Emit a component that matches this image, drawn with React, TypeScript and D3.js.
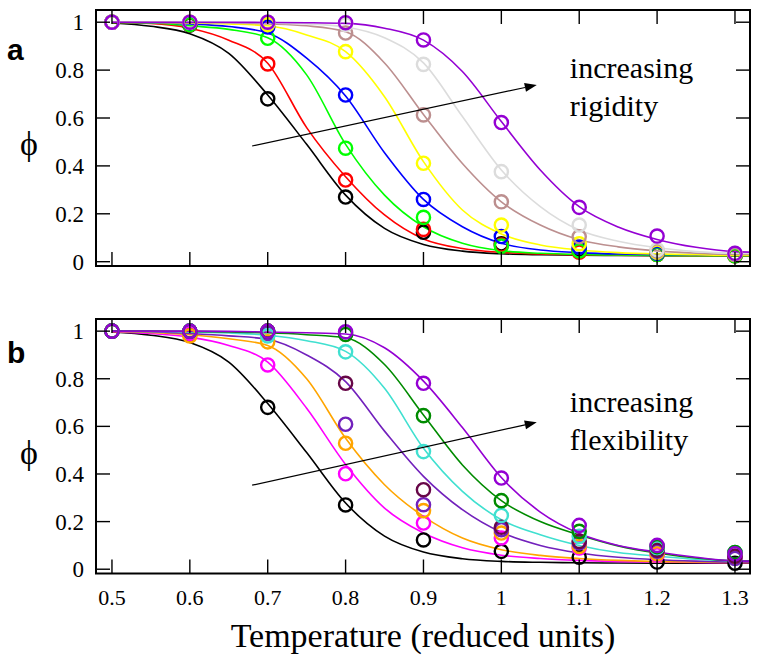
import React from 'react';
import * as d3 from 'd3';

// temperatures where the simulation points sit
const TEMPS = [0.5, 0.6, 0.7, 0.8, 0.9, 1.0, 1.1, 1.2, 1.3];
const FIT_T = [0.5, 0.55, 0.6, 0.65, 0.7, 0.75, 0.8, 0.85, 0.9, 0.95, 1.0, 1.05, 1.1, 1.15, 1.2, 1.25, 1.3, 1.32];

const X_TICKS = [0.5, 0.6, 0.7, 0.8, 0.9, 1.0, 1.1, 1.2, 1.3];
const X_TICK_LABELS = ['0.5', '0.6', '0.7', '0.8', '0.9', '1', '1.1', '1.2', '1.3'];
const Y_TICKS = [0, 0.2, 0.4, 0.6, 0.8, 1];
const Y_TICK_LABELS = ['0', '0.2', '0.4', '0.6', '0.8', '1'];

// panel a : points
const aBlackPts = [1, 0.988, 0.68, 0.27, 0.123, 0.075, 0.05, 0.03, 0.025];
const aRedPts = [1, 0.99, 0.826, 0.341, 0.135, 0.07, 0.04, 0.03, 0.025];
const aGreenPts = [1, 0.99, 0.933, 0.474, 0.185, 0.065, 0.045, 0.03, 0.025];
const aBluePts = [1, 0.998, 0.98, 0.696, 0.26, 0.105, 0.06, 0.035, 0.03];
const aYellowPts = [1, 1, 0.99, 0.877, 0.411, 0.153, 0.075, 0.04, 0.03];
const aBrownPts = [1, 1, 1, 0.955, 0.613, 0.25, 0.104, 0.045, 0.03];
const aGreyPts = [1, 1, 1, 0.99, 0.824, 0.376, 0.153, 0.05, 0.035];
const aVioletPts = [1, 1, 1, 0.998, 0.926, 0.581, 0.227, 0.107, 0.035];

// panel a : fitted curves
const aBlackFit = [0.997, 0.983, 0.952, 0.87, 0.696, 0.49, 0.278, 0.139, 0.072, 0.044, 0.033, 0.029, 0.027, 0.026, 0.025, 0.025, 0.025, 0.025];
const aRedFit = [0.999, 0.995, 0.975, 0.925, 0.829, 0.56, 0.355, 0.195, 0.095, 0.055, 0.039, 0.032, 0.029, 0.027, 0.026, 0.025, 0.025, 0.025];
const aGreenFit = [0.999, 0.997, 0.985, 0.97, 0.935, 0.78, 0.49, 0.278, 0.146, 0.077, 0.046, 0.035, 0.03, 0.028, 0.026, 0.025, 0.025, 0.025];
const aBlueFit = [1, 0.998, 0.993, 0.982, 0.955, 0.85, 0.692, 0.455, 0.26, 0.146, 0.077, 0.049, 0.038, 0.032, 0.03, 0.028, 0.027, 0.027];
const aYellowFit = [1, 0.999, 0.997, 0.993, 0.985, 0.947, 0.877, 0.689, 0.418, 0.216, 0.116, 0.07, 0.049, 0.038, 0.032, 0.029, 0.027, 0.027];
const aBrownFit = [1, 1, 0.999, 0.997, 0.993, 0.985, 0.96, 0.83, 0.615, 0.41, 0.25, 0.153, 0.092, 0.062, 0.045, 0.035, 0.03, 0.03];
const aGreyFit = [1, 1, 1, 0.999, 0.997, 0.993, 0.98, 0.935, 0.83, 0.606, 0.383, 0.23, 0.132, 0.085, 0.058, 0.042, 0.035, 0.034];
const aVioletFit = [1, 1, 1, 1, 0.999, 0.998, 0.995, 0.975, 0.925, 0.794, 0.585, 0.383, 0.23, 0.145, 0.093, 0.06, 0.042, 0.04];

// panel b : points
const bBlackPts = [1, 0.988, 0.68, 0.27, 0.123, 0.075, 0.05, 0.03, 0.025];
const bMagentaPts = [1, 0.99, 0.858, 0.401, 0.194, 0.131, 0.089, 0.06, 0.05];
const bOrangePts = [1, 0.98, 0.955, 0.529, 0.246, 0.152, 0.096, 0.065, 0.05];
const bIndigoPts = [1, 1, 0.99, 0.609, 0.271, 0.166, 0.11, 0.075, 0.045];
const bMaroonPts = [1, 1, 1, 0.781, 0.334, 0.176, 0.117, 0.08, 0.055];
const bTurquoisePts = [1, 1, 0.98, 0.913, 0.494, 0.226, 0.138, 0.09, 0.07];
const bGreenPts = [1, 1, 1, 0.986, 0.645, 0.288, 0.159, 0.095, 0.07];
const bVioletPts = [1, 1, 1, 0.997, 0.781, 0.383, 0.184, 0.1, 0.065];

// panel b : fitted curves
const bBlackFit = aBlackFit;
const bMagentaFit = [0.998, 0.99, 0.975, 0.94, 0.87, 0.676, 0.44, 0.257, 0.152, 0.09, 0.059, 0.045, 0.037, 0.032, 0.03, 0.028, 0.027, 0.027];
const bOrangeFit = [0.999, 0.995, 0.985, 0.968, 0.94, 0.8, 0.55, 0.355, 0.222, 0.131, 0.082, 0.058, 0.045, 0.037, 0.032, 0.03, 0.028, 0.028];
const bIndigoFit = [1, 0.998, 0.99, 0.98, 0.966, 0.9, 0.788, 0.58, 0.39, 0.25, 0.155, 0.1, 0.068, 0.05, 0.04, 0.034, 0.03, 0.03];
const bTurquoiseFit = [1, 0.999, 0.997, 0.992, 0.983, 0.96, 0.915, 0.76, 0.508, 0.327, 0.208, 0.145, 0.1, 0.07, 0.055, 0.042, 0.035, 0.034];
const bGreenFit = [1, 1, 0.999, 0.997, 0.993, 0.985, 0.972, 0.86, 0.648, 0.438, 0.288, 0.2, 0.144, 0.098, 0.068, 0.047, 0.035, 0.034];
const bVioletFit = [1, 1, 1, 0.999, 0.996, 0.993, 0.988, 0.93, 0.79, 0.595, 0.385, 0.24, 0.15, 0.1, 0.072, 0.05, 0.035, 0.034];

const C = {
  black: '#000000', red: '#ff0000', green: '#00ff00', blue: '#0000ff',
  yellow: '#ffff00', brown: '#bc8f8f', grey: '#dcdcdc', violet: '#9400d3',
  magenta: '#ff00ff', orange: '#ffa500', indigo: '#7221bc', maroon: '#670748',
  turquoise: '#40e0d0', green4: '#008b00',
};

const panelA = {
  label: 'a', top: 10, bottom: 266,
  fits: [
    [aBlackFit, C.black], [aRedFit, C.red], [aGreenFit, C.green], [aBlueFit, C.blue],
    [aYellowFit, C.yellow], [aBrownFit, C.brown], [aGreyFit, C.grey], [aVioletFit, C.violet],
  ],
  points: [
    [aBlackPts, C.black], [aRedPts, C.red], [aGreenPts, C.green], [aBluePts, C.blue],
    [aYellowPts, C.yellow], [aBrownPts, C.brown], [aGreyPts, C.grey], [aVioletPts, C.violet],
  ],
  arrow: [[0.68, 0.483], [1.0455, 0.738]],
  text: ['increasing', 'rigidity'], textT: 1.088, textY: [0.767, 0.61],
};

const panelB = {
  label: 'b', top: 319, bottom: 573.5,
  fits: [
    [bBlackFit, C.black], [bMagentaFit, C.magenta], [bOrangeFit, C.orange], [bIndigoFit, C.indigo],
    [bTurquoiseFit, C.turquoise], [bGreenFit, C.green4], [bVioletFit, C.violet],
  ],
  points: [
    [bBlackPts, C.black], [bMagentaPts, C.magenta], [bOrangePts, C.orange], [bIndigoPts, C.indigo],
    [bMaroonPts, C.maroon], [bTurquoisePts, C.turquoise], [bGreenPts, C.green4], [bVioletPts, C.violet],
  ],
  arrow: [[0.68, 0.353], [1.0455, 0.617]],
  text: ['increasing', 'flexibility'], textT: 1.088, textY: [0.659, 0.5],
};

const SERIF = '"Liberation Serif", "Times New Roman", Times, serif';
const SANS = '"Liberation Sans", Arial, Helvetica, sans-serif';
const X0 = 96;
const X1 = 750;
const TICK = 14;

const xScale = d3.scaleLinear().domain([0.4795, 1.3193]).range([X0, X1]);

const Panel = ({ p, showX }: { p: any; showX: boolean }) => {
  const y = d3.scaleLinear().domain([-0.018, 1.051]).range([p.bottom, p.top]);
  const line = d3.line<number>()
    .x((_, i) => xScale(FIT_T[i]))
    .y(d => y(d))
    .curve(d3.curveMonotoneX);
  const clipId = 'clip-' + p.label;

  // arrow head
  const [a0, a1] = p.arrow;
  const sx = xScale(a0[0]), sy = y(a0[1]);
  const ex = xScale(a1[0]), ey = y(a1[1]);
  const ang = Math.atan2(ey - sy, ex - sx);
  const hl = 12, hw = 4.5;
  const bx = ex - hl * Math.cos(ang), by = ey - hl * Math.sin(ang);
  const head = [
    [ex, ey],
    [bx + hw * Math.sin(ang), by - hw * Math.cos(ang)],
    [bx - hw * Math.sin(ang), by + hw * Math.cos(ang)],
  ].map(d => d.join(',')).join(' ');

  return (
    <g>
      <defs>
        <clipPath id={clipId}>
          <rect x={X0} y={p.top} width={X1 - X0} height={p.bottom - p.top} />
        </clipPath>
      </defs>
      <g clipPath={`url(#${clipId})`}>
        {p.fits.map(([vals, col]: any, i: number) => (
          <path key={i} d={line(vals) || ''} fill="none" stroke={col} strokeWidth={1.6} />
        ))}
        {p.points.map(([vals, col]: any, i: number) => (
          <g key={i}>
            {vals.map((v: number, j: number) => (
              <circle key={j} cx={xScale(TEMPS[j])} cy={y(v)} r={6.6} fill="none" stroke={col} strokeWidth={2.4} />
            ))}
          </g>
        ))}
      </g>
      {/* ticks, inward on all four sides */}
      {X_TICKS.map((t, i) => (
        <g key={'xt' + i} stroke="#000" strokeWidth={1.4}>
          <line x1={xScale(t)} x2={xScale(t)} y1={p.bottom} y2={p.bottom - TICK} />
          <line x1={xScale(t)} x2={xScale(t)} y1={p.top} y2={p.top + TICK} />
        </g>
      ))}
      {Y_TICKS.map((t, i) => (
        <g key={'yt' + i} stroke="#000" strokeWidth={1.4}>
          <line x1={X0} x2={X0 + TICK} y1={y(t)} y2={y(t)} />
          <line x1={X1} x2={X1 - TICK} y1={y(t)} y2={y(t)} />
        </g>
      ))}
      <rect x={X0} y={p.top} width={X1 - X0} height={p.bottom - p.top} fill="none" stroke="#000" strokeWidth={2} />
      {Y_TICK_LABELS.map((s, i) => (
        <text key={'yl' + i} x={84} y={y(Y_TICKS[i])} dy="0.35em" textAnchor="end"
          fontFamily={SERIF} fontSize={23}>{s}</text>
      ))}
      {showX && X_TICK_LABELS.map((s, i) => (
        <text key={'xl' + i} x={xScale(X_TICKS[i])} y={605} textAnchor="middle"
          fontFamily={SERIF} fontSize={22}>{s}</text>
      ))}
      <text x={29} y={p.top + 145} textAnchor="middle" fontFamily={SERIF} fontSize={34}>ϕ</text>
      <text x={7} y={p.top + (p.label === 'a' ? 50 : 44)} fontFamily={SANS} fontWeight="bold" fontSize={30}>{p.label}</text>
      <line x1={sx} y1={sy} x2={bx} y2={by} stroke="#000" strokeWidth={1.2} />
      <polygon points={head} fill="#000" />
      {p.text.map((s: string, i: number) => (
        <text key={'an' + i} x={xScale(p.textT)} y={y(p.textY[i])} fontFamily={SERIF} fontSize={30}>{s}</text>
      ))}
    </g>
  );
};

export default function App() {
  return (
    <svg width={762} height={664} style={{ position: 'absolute', left: 0, top: 0, background: '#fff' }}>
      <rect width={762} height={664} fill="#fff" />
      <Panel p={panelA} showX={false} />
      <Panel p={panelB} showX={true} />
      <text x={423} y={647} textAnchor="middle" fontFamily={SERIF} fontSize={34}>Temperature (reduced units)</text>
    </svg>
  );
}
